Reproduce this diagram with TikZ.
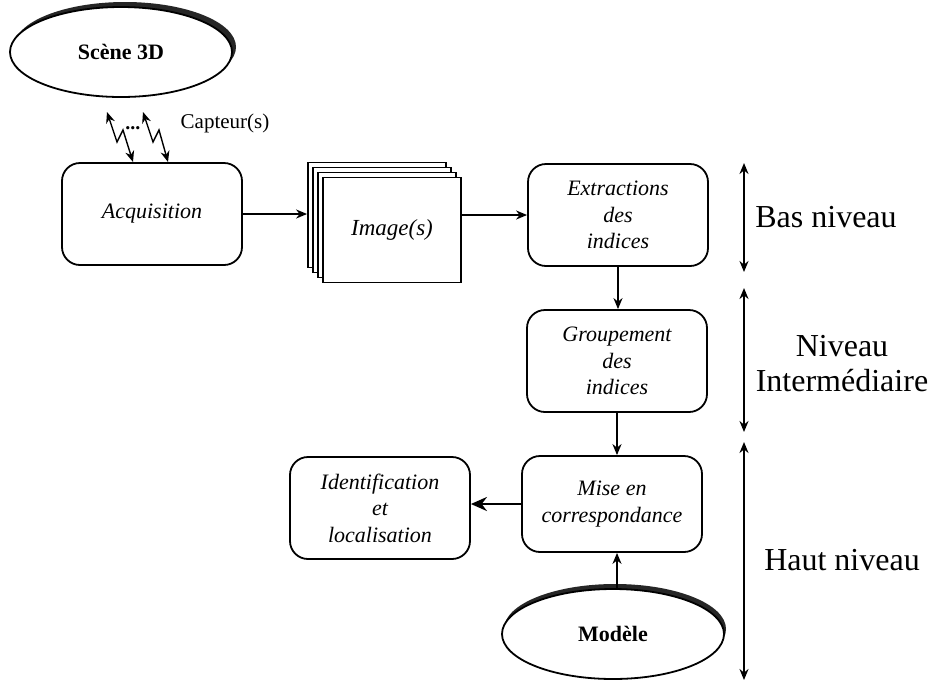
\documentclass[tikz,border=0pt]{standalone}
\usepackage{fontspec}
\setmainfont{Liberation Serif}
\usetikzlibrary{shapes.geometric, arrows.meta, positioning}

\begin{document}
\begin{tikzpicture}[x=0.5pt, y=-0.5pt, line width=0.9pt,
	>={Stealth[length=5.5pt,width=4.5pt]},
	boite/.style={draw, rounded corners=9pt, minimum width=90pt, minimum height=51pt, align=center, fill=white, font=\fontsize{11}{13.3}\selectfont\itshape},
	ovale/.style={draw, ellipse, minimum width=111pt, minimum height=45pt, inner sep=0pt, fill=white, font=\fontsize{11}{13}\selectfont\bfseries},
	ombre/.style={ellipse, minimum width=111pt, minimum height=45pt, inner sep=0pt, fill=black!85},
	page/.style={draw, fill=white, minimum width=69pt, minimum height=52.5pt, inner sep=0pt},
	niveau/.style={font=\fontsize{16}{17.5}\selectfont, align=center},
	fl/.style={->}]
	\useasboundingbox (0,0) rectangle (928,682);
	% scene et acquisition
	\node[ombre] at (125,47) {};
	\node[ovale] (scene) at (121,52) {Scène 3D};
	\node[boite] (acq) at (152,214) {Acquisition};
	\coordinate (c1) at (107,112);
	\coordinate (c2) at (133,162);
	\coordinate (c3) at (143,112);
	\coordinate (c4) at (168,162);
	\draw[<->, line width=0.7pt] (c1) -- (117,142) -- (123,130) -- (c2);
	\draw[<->, line width=0.7pt] (c3) -- (153,142) -- (159,130) -- (c4);
	\node[font=\fontsize{10}{11}\selectfont\bfseries] (pts) at (133,128) {...};
	\node[font=\fontsize{10.5}{12}\selectfont] (capt) at (225,123) {Capteur(s)};
	% pile d'images
	\foreach \d in {15,10,5}
		\node[page] (p\d) at (392-\d,230-\d) {};
	\node[page, font=\fontsize{11.5}{13}\selectfont\itshape] (img) at (392,230) {Image(s)};
	% chaine de traitement
	\node[boite] (extr) at (618,215) {Extractions\\des\\indices};
	\node[boite] (grp) at (617,361) {Groupement\\des\\indices};
	\node[boite, minimum height=48pt] (mise) at (612,504) {Mise en\\correspondance};
	\node[boite] (ident) at (380,508) {Identification\\et\\localisation};
	\node[ombre] at (615,629) {};
	\node[ovale] (mod) at (613,634) {Modèle};
	\draw[fl] (acq.east) -- (acq.east -| p15.west);
	\draw[fl] (img.east |- extr.west) -- (extr.west);
	\draw[fl] (extr.south) -- (extr.south |- grp.north);
	\draw[fl] (grp.south) -- (grp.south |- mise.north);
	\draw[-{Stealth[length=8pt,width=7pt]}, line width=1.4pt] (mise.west) -- (mise.west -| ident.east);
	\draw[fl] (grp.south |- mod.north) -- (grp.south |- mise.south);
	% niveaux
	\coordinate (b1) at (744,163);
	\coordinate (b2) at (744,272);
	\coordinate (n1) at (744,288);
	\coordinate (n2) at (744,432);
	\coordinate (h1) at (744,442);
	\coordinate (h2) at (744,680);
	\draw[<->] (b1) -- (b2);
	\draw[<->] (n1) -- (n2);
	\draw[<->] (h1) -- (h2);
	\node[niveau] (bas) at (826,217) {Bas niveau};
	\node[niveau] (inter) at (842,364) {Niveau\\Intermédiaire};
	\node[niveau] (haut) at (842,560) {Haut niveau};
\end{tikzpicture}
\end{document}
